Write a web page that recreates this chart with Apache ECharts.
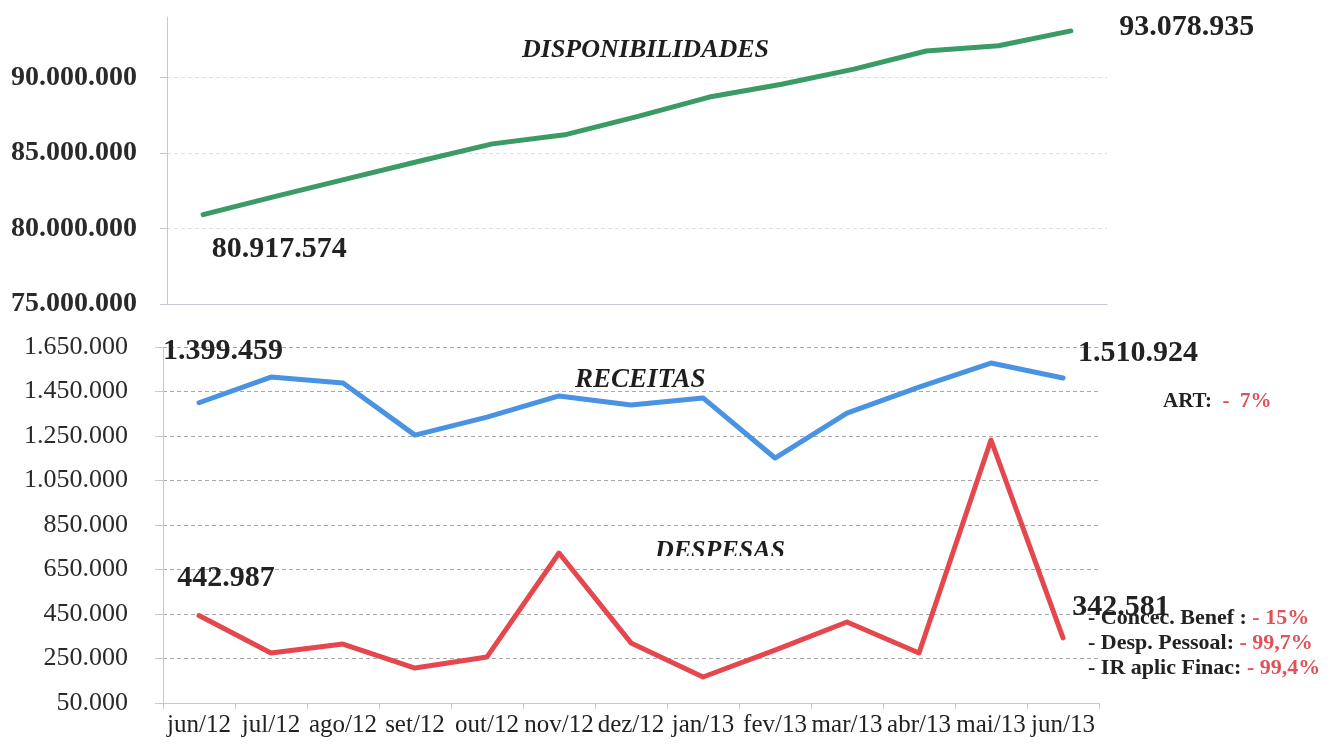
<!DOCTYPE html>
<html>
<head>
<meta charset="utf-8">
<script src="https://cdn.jsdelivr.net/npm/echarts@6/dist/echarts.min.js"></script>
<style>
html,body{margin:0;padding:0;background:#fff;}
#chart{width:1331px;height:744px;}
</style>
</head>
<body>
<div id="chart"></div>
<script>
const categories = ['jun/12','jul/12','ago/12','set/12','out/12','nov/12','dez/12','jan/13','fev/13','mar/13','abr/13','mai/13','jun/13'];
const disponibilidades = [80917574, 82130000, 83300000, 84470000, 85600000, 86200000, 87400000, 88700000, 89550000, 90550000, 91750000, 92100000, 93078935];
const receitas = [1399459, 1515000, 1488000, 1254000, 1335000, 1430000, 1389000, 1421000, 1151000, 1353000, 1470000, 1578000, 1510924];
const despesas = [442987, 275000, 315000, 207000, 257000, 724000, 320000, 167000, 288000, 414000, 275000, 1232000, 342581];
const topTicks = { min: 75000000, max: 94000000, interval: 5000000 };
const bottomTicks = { min: 50000, max: 1650000, interval: 200000 };
const titles = ['DISPONIBILIDADES', 'RECEITAS', 'DESPESAS'];
const notes = [
  ['ART:  ', '-  7%'],
  ['- Concec. Benef : ', '- 15%'],
  ['- Desp. Pessoal: ', '- 99,7%'],
  ['- IR aplic Finac: ', '- 99,4%']
];

const SERIF = '"Liberation Serif", "Times New Roman", serif';
const fmt = n => Math.round(n).toString().replace(/\B(?=(\d{3})+(?!\d))/g, '.');

function withEndLabels(arr, firstOffset, lastOffset) {
  return arr.map((v, i) => {
    if (i === 0 || i === arr.length - 1) {
      return {
        value: v,
        label: {
          show: true, position: 'inside',
          offset: i === 0 ? firstOffset : lastOffset,
          formatter: p => fmt(p.value),
          fontFamily: SERIF, fontWeight: 'bold', fontSize: 30, color: '#222'
        }
      };
    }
    return v;
  });
}

const chart = echarts.init(document.getElementById('chart'), null, { renderer: 'canvas' });
const axisLineColor = '#c3c8d2';

const option = {
  animation: false,
  backgroundColor: '#ffffff',
  grid: [
    { left: 167, right: 224, top: 17, height: 287 },
    { left: 163, right: 232, top: 347, height: 356 }
  ],
  xAxis: [
    {
      type: 'category', gridIndex: 0, data: categories, boundaryGap: true,
      axisLine: { show: true, lineStyle: { color: axisLineColor, width: 1 } },
      axisTick: { show: false }, axisLabel: { show: false }, splitLine: { show: false }
    },
    {
      type: 'category', gridIndex: 1, data: categories, boundaryGap: true,
      axisLine: { show: true, lineStyle: { color: axisLineColor, width: 1 } },
      axisTick: { show: true, length: 6, lineStyle: { color: axisLineColor } },
      axisLabel: { interval: 0, margin: 10, fontFamily: SERIF, fontSize: 25, color: '#222' },
      splitLine: { show: false }
    }
  ],
  yAxis: [
    {
      type: 'value', gridIndex: 0,
      min: topTicks.min, max: topTicks.max, interval: topTicks.interval,
      axisLine: { show: true, lineStyle: { color: axisLineColor, width: 1 } },
      axisTick: { show: true, length: 7, lineStyle: { color: axisLineColor } },
      axisLabel: {
        showMaxLabel: false, margin: 30, formatter: v => fmt(v),
        fontFamily: SERIF, fontWeight: 'bold', fontSize: 28, color: '#2a2a2a'
      },
      splitLine: { show: true, showMaxLine: false, lineStyle: { color: '#e0e0e0', type: [4, 3], width: 1 } }
    },
    {
      type: 'value', gridIndex: 1,
      min: bottomTicks.min, max: bottomTicks.max, interval: bottomTicks.interval,
      axisLine: { show: true, lineStyle: { color: axisLineColor, width: 1 } },
      axisTick: { show: true, length: 8, lineStyle: { color: axisLineColor } },
      axisLabel: {
        margin: 35, formatter: v => fmt(v),
        fontFamily: SERIF, fontSize: 26, color: '#2a2a2a'
      },
      splitLine: { show: true, lineStyle: { color: '#a9a9a9', type: [4, 3], width: 1 } }
    }
  ],
  series: [
    {
      name: 'DISPONIBILIDADES', type: 'line', xAxisIndex: 0, yAxisIndex: 0,
      data: withEndLabels(disponibilidades, [76, 35], [116, -4]),
      symbol: 'circle', symbolSize: 1, showSymbol: true,
      itemStyle: { color: '#3a9b64' },
      lineStyle: { color: '#3a9b64', width: 5, cap: 'round', join: 'round' },
      z: 5
    },
    {
      name: 'RECEITAS', type: 'line', xAxisIndex: 1, yAxisIndex: 1,
      data: withEndLabels(receitas, [24, -51], [75, -25]),
      symbol: 'circle', symbolSize: 1, showSymbol: true,
      itemStyle: { color: '#4a92e2' },
      lineStyle: { color: '#4a92e2', width: 5, cap: 'round', join: 'round' },
      z: 5
    },
    {
      name: 'DESPESAS', type: 'line', xAxisIndex: 1, yAxisIndex: 1,
      data: withEndLabels(despesas, [27, -37], [58, -31]),
      symbol: 'circle', symbolSize: 1, showSymbol: true,
      itemStyle: { color: '#e5474f' },
      lineStyle: { color: '#e5474f', width: 5, cap: 'round', join: 'round' },
      z: 5
    }
  ],
  graphic: [
    { type: 'text', x: 522, y: 50, z: 10, style: { text: titles[0], font: 'italic bold 26px ' + SERIF, fill: '#1e1e1e', textAlign: 'left', textVerticalAlign: 'middle' } },
    { type: 'text', x: 575, y: 380, z: 10, style: { text: titles[1], font: 'italic bold 27px ' + SERIF, fill: '#1e1e1e', textAlign: 'left', textVerticalAlign: 'middle' } },
    { type: 'text', x: 655, y: 551, z: 10, style: { text: titles[2], font: 'italic bold 26px ' + SERIF, fill: '#1e1e1e', textAlign: 'left', textVerticalAlign: 'middle' } },
    { type: 'rect', z: 11, shape: { x: 650, y: 556, width: 145, height: 8 }, style: { fill: '#ffffff' } },
    {
      type: 'text', x: 1163, y: 402, z: 10,
      style: {
        text: '{b|' + notes[0][0] + '}{r|' + notes[0][1] + '}',
        textAlign: 'left', textVerticalAlign: 'middle',
        rich: {
          b: { font: 'bold 21px ' + SERIF, fill: '#222' },
          r: { font: 'bold 21px ' + SERIF, fill: '#e0525a' }
        }
      }
    },
    ...[1, 2, 3].map((k, j) => ({
      type: 'text', x: 1088, y: 618 + j * 25, z: 10,
      style: {
        text: '{b|' + notes[k][0] + '}{r|' + notes[k][1] + '}',
        textAlign: 'left', textVerticalAlign: 'middle',
        rich: {
          b: { font: 'bold 22px ' + SERIF, fill: '#222' },
          r: { font: 'bold 22px ' + SERIF, fill: '#e0525a' }
        }
      }
    }))
  ]
};
chart.setOption(option);
</script>
</body>
</html>
